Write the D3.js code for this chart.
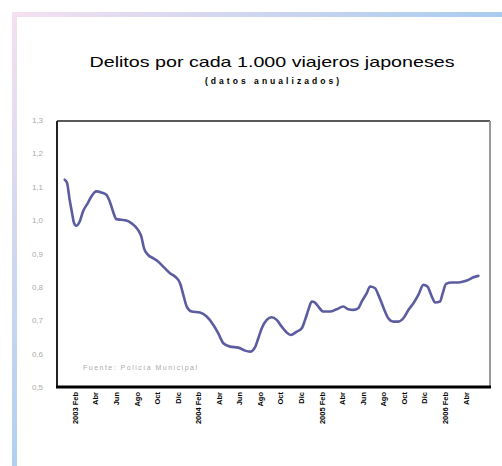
<!DOCTYPE html>
<html>
<head>
<meta charset="utf-8">
<script src="https://cdn.jsdelivr.net/npm/d3@7/dist/d3.min.js"></script>
<style>
  html, body { margin: 0; padding: 0; background: #fff; }
  svg { display: block; }
  text { font-family: "Liberation Sans", Arial, sans-serif; }
</style>
</head>
<body>
<svg id="chart" width="502" height="466"></svg>
<script>
// Months counted from Jan 2003 (Jan 2003 = 0)
const meses = [0.00,0.22,0.48,0.71,0.90,1.13,1.46,1.78,2.26,2.59,3.07,3.56,4.05,4.38,4.70,5.02,5.50,5.99,6.48,7.13,7.45,7.71,8.10,8.59,9.08,9.73,10.24,10.73,11.22,11.54,11.87,12.35,13.16,13.81,14.46,14.94,15.43,16.08,16.89,17.54,18.03,18.51,18.83,19.17,19.65,20.14,20.62,21.11,21.60,21.99,22.57,23.06,23.38,23.70,24.03,24.35,24.67,25.16,25.81,26.46,27.10,27.59,28.08,28.56,28.89,29.38,29.70,30.19,30.51,30.84,31.16,31.48,31.97,32.46,32.94,33.43,33.92,34.40,34.89,35.28,35.71,36.03,36.51,36.77,37.10,37.65,38.29,38.78,39.27,39.76,40.24];
const delitos = [1.121,1.112,1.061,1.022,0.992,0.983,0.996,1.026,1.052,1.071,1.086,1.083,1.076,1.056,1.026,1.003,1.001,0.999,0.991,0.971,0.951,0.916,0.896,0.886,0.876,0.856,0.841,0.831,0.811,0.776,0.741,0.726,0.723,0.711,0.686,0.661,0.631,0.621,0.618,0.609,0.606,0.619,0.646,0.676,0.701,0.709,0.701,0.681,0.663,0.656,0.666,0.676,0.701,0.731,0.756,0.753,0.741,0.726,0.726,0.733,0.741,0.733,0.731,0.736,0.756,0.781,0.801,0.796,0.776,0.751,0.726,0.706,0.696,0.696,0.706,0.731,0.751,0.776,0.806,0.801,0.771,0.753,0.756,0.781,0.809,0.813,0.813,0.816,0.821,0.829,0.833];
const xTickMeses = [1,3,5,7,9,11,13,15,17,19,21,23,25,27,29,31,33,35,37,39];
const xTickLabels = ["2003 Feb","Abr","Jun","Ago","Oct","Dic","2004 Feb","Abr","Jun","Ago","Oct","Dic","2005 Feb","Abr","Jun","Ago","Oct","Dic","2006 Feb","Abr"];
const yTicks = [0.5,0.6,0.7,0.8,0.9,1.0,1.1,1.2,1.3];
const yTickLabels = ["0,5","0,6","0,7","0,8","0,9","1,0","1,1","1,2","1,3"];
const titulo = "Delitos por cada 1.000 viajeros japoneses";
const subtitulo = "(datos anualizados)";
const fuente = "Fuente: Policía Municipal";

const svg = d3.select("#chart");

// decorative slide frame
const defs = svg.append("defs");
const gTop = defs.append("linearGradient").attr("id","gtop").attr("x1","0").attr("x2","1").attr("y1","0").attr("y2","0");
gTop.append("stop").attr("offset","0").attr("stop-color","#f4e0f0");
gTop.append("stop").attr("offset","1").attr("stop-color","#a8ccf0");
const gLeft = defs.append("linearGradient").attr("id","gleft").attr("x1","0").attr("x2","0").attr("y1","0").attr("y2","1");
gLeft.append("stop").attr("offset","0").attr("stop-color","#f4e0f0");
gLeft.append("stop").attr("offset","1").attr("stop-color","#b0d0f0");
svg.append("rect").attr("x",12).attr("y",12).attr("width",490).attr("height",5).attr("fill","url(#gtop)");
svg.append("rect").attr("x",12).attr("y",12).attr("width",5).attr("height",454).attr("fill","url(#gleft)");

const L = 57, R = 490, T = 121, B = 387;
const x = d3.scaleLinear().domain([-0.75, 41.37]).range([L, R]);
const y = d3.scaleLinear().domain([0.5, 1.3]).range([B, 120]);

// title
svg.append("text").attr("x", 272).attr("y", 67).attr("text-anchor","middle")
  .attr("font-family","DejaVu Sans, sans-serif")
  .attr("font-size", 14.5).attr("fill","#000")
  .attr("textLength", 365).attr("lengthAdjust","spacingAndGlyphs").text(titulo);
svg.append("text").attr("x", 272).attr("y", 84).attr("text-anchor","middle")
  .attr("font-family","DejaVu Sans, sans-serif")
  .attr("font-size", 8.5).attr("font-weight","bold").attr("fill","#000")
  .attr("textLength", 134).attr("lengthAdjust","spacing").text(subtitulo);

// y axis labels
const yAxis = d3.axisLeft(y).tickValues(yTicks).tickSize(0).tickPadding(0)
  .tickFormat((d,i) => yTickLabels[i]);
const gy = svg.append("g").attr("transform", `translate(43,0)`).call(yAxis);
gy.select(".domain").remove();
gy.selectAll("text").attr("font-size", 8).attr("fill","#aaaaaa")
  .attr("font-family","Liberation Sans, Arial, sans-serif");

// x axis labels
const xAxis = d3.axisBottom(x).tickValues(xTickMeses).tickSize(0)
  .tickFormat((d,i) => xTickLabels[i]);
const gx = svg.append("g").attr("transform", `translate(0,${B})`).call(xAxis);
gx.select(".domain").remove();
gx.selectAll("text")
  .attr("font-size", 7.5).attr("font-weight","bold").attr("fill","#000")
  .attr("font-family","Liberation Sans, Arial, sans-serif")
  .attr("text-anchor","end").attr("dy","0.32em").attr("dx","0")
  .attr("transform","translate(0,5) rotate(-90)")
  .attr("y", 0).attr("x", 0);

// plot frame
svg.append("line").attr("x1",L).attr("x2",R).attr("y1",T).attr("y2",T).attr("stroke","#222").attr("stroke-width",1.5);
svg.append("line").attr("x1",L).attr("x2",L).attr("y1",T).attr("y2",B).attr("stroke","#222").attr("stroke-width",2);
svg.append("line").attr("x1",R).attr("x2",R).attr("y1",T).attr("y2",B).attr("stroke","#999").attr("stroke-width",2);
svg.append("line").attr("x1",L-1).attr("x2",R+1).attr("y1",B).attr("y2",B).attr("stroke","#000").attr("stroke-width",3);

// source note
svg.append("text").attr("x", 83).attr("y", 370).attr("font-size", 7).attr("fill","#aaaaaa")
  .attr("textLength", 114).attr("lengthAdjust","spacing").text(fuente);

// line
const pts = meses.map((m,i) => [m, delitos[i]]);
const line = d3.line().x(d => x(d[0])).y(d => y(d[1])).curve(d3.curveMonotoneX);
svg.append("path").datum(pts).attr("d", line)
  .attr("fill","none").attr("stroke","#5c5ca0").attr("stroke-width",2.6)
  .attr("stroke-linejoin","round").attr("stroke-linecap","round");
</script>
</body>
</html>
